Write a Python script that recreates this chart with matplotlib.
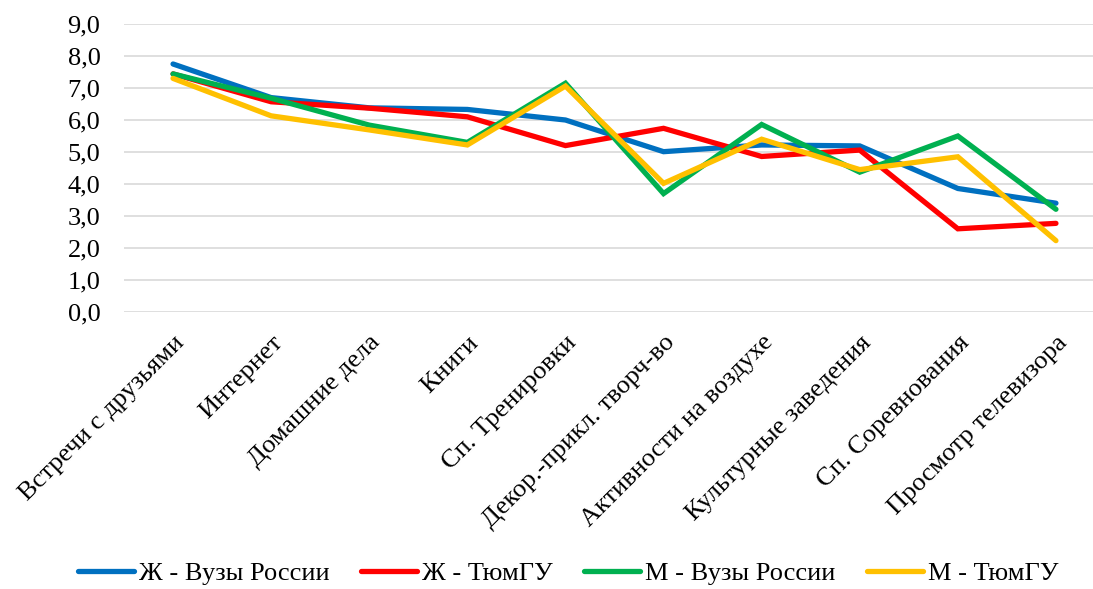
import numpy as np
import matplotlib
matplotlib.use('Agg')
import matplotlib.pyplot as plt
from matplotlib.ticker import FuncFormatter

plt.rcParams['font.family'] = ['Liberation Serif', 'DejaVu Serif']

categories = ['Встречи с друзьями', 'Интернет', 'Домашние дела', 'Книги',
              'Сп. Тренировки', 'Декор.-прикл. творч-во', 'Активности на воздухе',
              'Культурные заведения', 'Сп. Соревнования', 'Просмотр телевизора']

f_russia = [7.75, 6.70, 6.38, 6.33, 6.00, 5.01, 5.22, 5.19, 3.86, 3.40]
f_tyumgu = [7.44, 6.57, 6.37, 6.10, 5.20, 5.74, 4.86, 5.06, 2.60, 2.77]
m_russia = [7.44, 6.68, 5.84, 5.30, 7.15, 3.70, 5.86, 4.37, 5.50, 3.21]
m_tyumgu = [7.30, 6.13, 5.69, 5.22, 7.06, 4.02, 5.40, 4.45, 4.85, 2.23]

series = [('Ж - Вузы России', f_russia, '#0070C0'),
          ('Ж - ТюмГУ', f_tyumgu, '#FF0000'),
          ('М - Вузы России', m_russia, '#00B050'),
          ('М - ТюмГУ', m_tyumgu, '#FFC000')]

fig = plt.figure(figsize=(10.93, 5.89), dpi=100)
ax = fig.add_axes([124/1093, 277/589, 981/1093, 288/589])

x = np.arange(len(categories))
for name, vals, col in series:
    ax.plot(x, vals, '-', color=col, lw=3.8, label=name,
            solid_capstyle='round', solid_joinstyle='miter')

ax.set_xlim(-0.5, len(categories) - 0.5)
ax.set_ylim(0, 9)
ax.set_yticks(np.arange(0, 10, 1))
ax.yaxis.set_major_formatter(FuncFormatter(lambda v, p: ('%.1f' % v).replace('.', ',')))
ax.grid(axis='y', color='#D9D9D9', lw=1.2)
ax.set_axisbelow(True)
for s in ax.spines.values():
    s.set_visible(False)
ax.tick_params(axis='both', length=0, labelsize=19, colors='black')
ax.tick_params(axis='y', pad=17)
ax.set_xticks(x)
ax.set_xticklabels(categories, rotation=45, ha='right', va='top',
                   rotation_mode='anchor', fontsize=19)
ax.tick_params(axis='x', pad=14)

fig.legend(loc='lower center', bbox_to_anchor=(0.52, -0.034), ncol=4,
           fontsize=19, frameon=False, handlelength=2.1, handletextpad=0.2,
           columnspacing=1.2)

plt.savefig('out.png', dpi=100)
